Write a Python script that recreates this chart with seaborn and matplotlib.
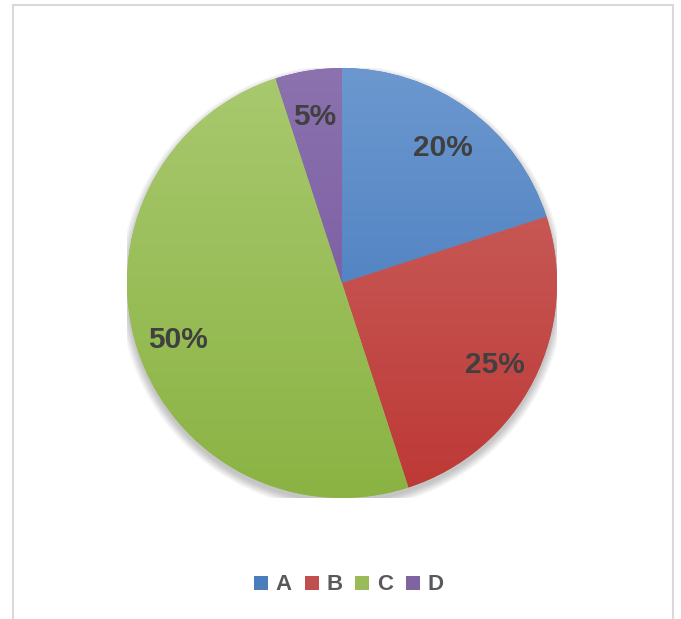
import numpy as np
import matplotlib
matplotlib.use("Agg")
import matplotlib.pyplot as plt
import matplotlib.transforms as mtransforms
import seaborn as sns
from matplotlib.colors import LinearSegmentedColormap
from matplotlib.patches import Circle, Rectangle
from matplotlib.lines import Line2D

# data
labels = ["A", "B", "C", "D"]
shares = [20, 25, 50, 5]

# light (top) / dark (bottom) shades of each slice
top_colors = ["#6c98cf", "#cc6865", "#a9c96f", "#8c72ae"]
bottom_colors = ["#3c72b8", "#bd3835", "#8ab343", "#70509c"]
base_colors = ["#4a7ebb", "#c0504d", "#9bbb59", "#8064a2"]

sns.set_theme(style="white")
plt.rcParams['font.family'] = ['Liberation Sans', 'DejaVu Sans']

W, H = 681, 619
fig = plt.figure(figsize=(W / 100, H / 100), dpi=100)
fig.patch.set_facecolor("white")

# outer chart border (open at the bottom of the picture)
fig.patches.append(Rectangle((13 / W, -0.02), (673 - 13) / W, (H - 5) / H + 0.02,
                             transform=fig.transFigure, fill=False,
                             edgecolor="#d9d9d9", linewidth=1.5))

# pie area: centre (342, 283) px, radius 215 px
cx, cy, r = 342, 283, 215
ax = fig.add_axes([(cx - r) / W, (H - cy - r) / H, 2 * r / W, 2 * r / H])

# soft shadow under the pie
for i in range(10):
    ax.add_patch(Circle((0.0, -0.02), 1.0 + i * 0.004, facecolor="black",
                        alpha=0.025, linewidth=0, zorder=0))

wedges, texts, autotexts = ax.pie(
    shares, startangle=90, counterclock=False, colors=base_colors,
    autopct="%d%%", pctdistance=0.8,
    wedgeprops=dict(linewidth=0),
    textprops=dict(fontsize=21.5, fontweight="bold", color="#404040"))

# vertical gradient on each slice
grad = np.linspace(0, 1, 256).reshape(-1, 1)
for w, c1, c2 in zip(wedges, top_colors, bottom_colors):
    cmap = LinearSegmentedColormap.from_list("g", [c1, c2])
    im = ax.imshow(grad, cmap=cmap, extent=(-1, 1, -1, 1), origin="upper",
                   aspect="auto", zorder=1)
    im.set_clip_path(w)

# nudge the labels down a little, like the original
shift = mtransforms.offset_copy(ax.transData, fig=fig, y=-4, units="dots")
for t in autotexts:
    t.set_zorder(5)
    t.set_transform(shift)

ax.set_xlim(-1, 1)
ax.set_ylim(-1, 1)
ax.set_aspect("equal")
ax.axis("off")

handles = [Line2D([], [], marker="s", linestyle="", markersize=10,
                  markerfacecolor=c, markeredgewidth=0) for c in base_colors]
leg = fig.legend(handles, labels, loc="center", bbox_to_anchor=(349 / W, 1 - 585 / H),
                 ncol=4, frameon=False, handlelength=0.6, handletextpad=0.35,
                 columnspacing=0.6, prop=dict(size=16, weight="bold"))
for t in leg.get_texts():
    t.set_color("#595959")

fig.savefig("out.png", dpi=100)
